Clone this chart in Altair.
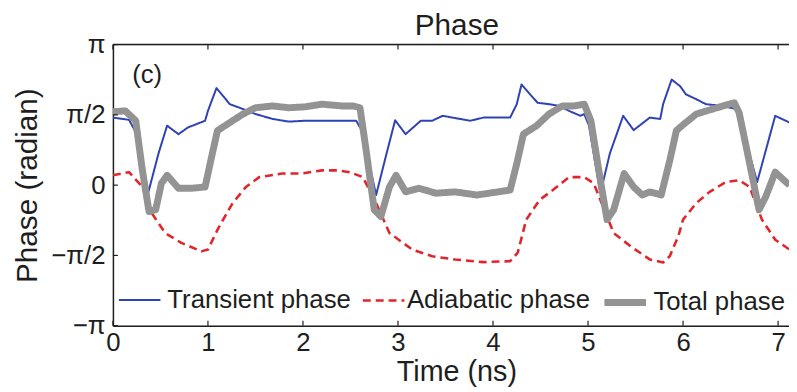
import math
import altair as alt
import pandas as pd

# ---- data (time in ns, phase in radian) ----
t_transient = [0.00, 0.17, 0.27, 0.37, 0.48, 0.57, 0.69, 0.79, 0.97, 1.00, 1.09, 1.16, 1.23, 1.37,
               1.50, 1.68, 1.85, 2.02, 2.20, 2.41, 2.56, 2.62, 2.77, 2.88, 2.97, 3.08, 3.24, 3.36,
               3.47, 3.60, 3.76, 3.90, 4.18, 4.25, 4.30, 4.39, 4.47, 4.59, 4.70, 4.80, 4.92, 4.96,
               5.01, 5.13, 5.23, 5.37, 5.48, 5.65, 5.76, 5.79, 5.88, 5.97, 6.03, 6.14, 6.24, 6.42,
               6.56, 6.63, 6.78, 6.87, 6.97, 7.08, 7.12]
phi_transient = [1.51, 1.46, 1.06, -0.18, 0.71, 1.33, 1.14, 1.29, 1.44, 1.66, 2.17, 1.99, 1.81, 1.70,
                 1.59, 1.48, 1.42, 1.44, 1.44, 1.44, 1.44, 1.22, -0.22, 0.71, 1.45, 1.14, 1.44, 1.44,
                 1.55, 1.50, 1.44, 1.51, 1.51, 1.81, 2.25, 2.03, 1.84, 1.81, 1.77, 1.66, 1.55, 1.59,
                 1.33, -0.18, 0.71, 1.55, 1.23, 1.51, 1.48, 1.81, 2.36, 2.21, 2.03, 1.92, 1.81, 1.77,
                 1.70, 1.22, 0.07, 0.77, 1.55, 1.44, 1.40]

t_adiabatic = [0.00, 0.17, 0.31, 0.41, 0.55, 0.72, 0.93, 1.00, 1.10, 1.16, 1.26, 1.40, 1.54, 1.78,
               1.99, 2.20, 2.37, 2.49, 2.63, 2.77, 2.91, 3.15, 3.36, 3.60, 3.90, 4.18, 4.26, 4.35,
               4.49, 4.63, 4.80, 4.89, 4.96, 5.06, 5.27, 5.45, 5.65, 5.79, 5.86, 5.95, 6.00, 6.14,
               6.28, 6.45, 6.59, 6.70, 6.83, 6.97, 7.12]
phi_adiabatic = [0.22, 0.29, -0.04, -0.63, -1.07, -1.29, -1.48, -1.44, -1.00, -0.77, -0.40, -0.04, 0.18, 0.26,
                 0.26, 0.33, 0.33, 0.29, 0.18, -0.40, -1.07, -1.44, -1.59, -1.66, -1.72, -1.70, -1.51, -0.77,
                 -0.33, -0.11, 0.18, 0.18, 0.18, 0.04, -1.07, -1.37, -1.66, -1.73, -1.59, -1.14, -0.77, -0.40,
                 -0.15, 0.07, 0.11, -0.04, -0.77, -1.22, -1.44]

t_total = [0.00, 0.13, 0.24, 0.31, 0.38, 0.45, 0.51, 0.57, 0.69, 0.83, 0.97, 1.03, 1.10, 1.21,
           1.26, 1.37, 1.50, 1.68, 1.85, 2.02, 2.20, 2.41, 2.53, 2.60, 2.67, 2.75, 2.82, 2.91,
           2.98, 3.08, 3.22, 3.40, 3.60, 3.83, 4.18, 4.25, 4.32, 4.46, 4.59, 4.73, 4.85, 4.96,
           5.03, 5.13, 5.20, 5.27, 5.38, 5.48, 5.57, 5.65, 5.77, 5.86, 5.93, 6.00, 6.14, 6.31,
           6.42, 6.54, 6.59, 6.68, 6.80, 6.87, 6.97, 7.12]
phi_total = [1.64, 1.66, 1.44, 0.33, -0.59, -0.55, 0.04, 0.22, -0.07, -0.07, -0.04, 0.55, 1.22, 1.37,
             1.44, 1.59, 1.73, 1.77, 1.73, 1.75, 1.81, 1.77, 1.77, 1.73, 0.70, -0.55, -0.70, -0.04,
             0.22, -0.15, -0.07, -0.18, -0.15, -0.22, -0.11, 0.48, 1.14, 1.33, 1.59, 1.77, 1.77, 1.81,
             1.44, 0.11, -0.77, -0.55, 0.26, -0.04, -0.22, -0.15, -0.22, 0.55, 1.22, 1.35, 1.59, 1.70,
             1.77, 1.84, 1.62, 0.70, -0.55, -0.26, 0.29, 0.00]

series_names = ["Transient phase", "Adiabatic phase", "Total phase"]
series_colors = ["#2e42b4", "#e0262c", "#939393"]
series_dash = [[1, 0], [8, 5], [1, 0]]
series_width = [2.0, 2.6, 7.0]

# legend entry placement (inside the plot, along the bottom)
legend_x = [5, 251, 493]
legend_label_offset = [6, 1, 4]

x_ticks = [0, 1, 2, 3, 4, 5, 6, 7]
y_ticks = [-math.pi, -math.pi / 2, 0, math.pi / 2, math.pi]
y_tick_labels = ["−π", "−π/2", "0", "π/2", "π"]

panel_label = ["(c)"]
panel_label_t = [0.36]
panel_label_phi = [2.46]

W, H = 683, 284
FONT = "Liberation Sans"
INK = "#1e1e1e"

label_expr = " : ".join(
    f"abs(datum.value - ({v})) < 0.01 ? '{s}'" for v, s in zip(y_ticks, y_tick_labels)
) + " : ''"

xscale = alt.Scale(domain=[0, 7.115], nice=False, zero=False)
yscale = alt.Scale(domain=[-math.pi, math.pi], nice=False, zero=False)

x_axis = alt.Axis(values=x_ticks, ticks=False, tickSize=0, grid=False, labelFontSize=26,
                  labelFont=FONT, labelColor=INK, labelPadding=25, labelBaseline="alphabetic",
                  title="Time (ns)", titleFontSize=29, titleFont=FONT, titleFontWeight="normal",
                  titleColor=INK, titleX=347, titleY=55, titleBaseline="alphabetic",
                  titleAlign="center", domainColor=INK, domainWidth=1.5, labelFlush=False)
y_axis = alt.Axis(values=y_ticks, ticks=False, tickSize=0, grid=False, labelFontSize=26,
                  labelFont=FONT, labelColor=INK, labelPadding=8, labelExpr=label_expr,
                  title="Phase (radian)", titleFontSize=30, titleFont=FONT,
                  titleFontWeight="normal", titleColor=INK, titleX=-77, titleY=142,
                  titleAngle=270, titleBaseline="alphabetic", titleAlign="center",
                  domainColor=INK, domainWidth=1.5, labelFlush=False)

X = alt.X("t:Q", scale=xscale, axis=x_axis)
Y = alt.Y("phi:Q", scale=yscale, axis=y_axis)

layers = []
for name, ts, ps, col, w, d, lx, lo in zip(series_names,
                                           [t_transient, t_adiabatic, t_total],
                                           [phi_transient, phi_adiabatic, phi_total],
                                           series_colors, series_width, series_dash,
                                           legend_x, legend_label_offset):
    df = pd.DataFrame({"t": ts, "phi": ps, "series": name})
    leg = alt.Legend(orient="none", legendX=lx, legendY=236, title=None,
                     symbolType="stroke", symbolSize=1764, symbolStrokeWidth=w, symbolDash=d,
                     labelFont=FONT, labelFontSize=26, labelColor=INK, labelLimit=400,
                     labelOffset=lo, padding=0)
    layers.append(
        alt.Chart(df).mark_line(clip=True, strokeJoin="round", strokeWidth=w, strokeDash=d).encode(
            x=X, y=Y,
            color=alt.Color("series:N", scale=alt.Scale(domain=[name], range=[col]), legend=leg),
            order=alt.Order("t:Q"),
        )
    )

xt_df = pd.DataFrame({"t": x_ticks})
yt_df = pd.DataFrame({"phi": y_ticks})
lab_df = pd.DataFrame({"t": panel_label_t, "phi": panel_label_phi, "label": panel_label})

bottom_ticks = alt.Chart(xt_df).mark_rule(color=INK, strokeWidth=1.2).encode(
    x=X, y=alt.value(H), y2=alt.value(H - 5))
top_ticks = alt.Chart(xt_df).mark_rule(color=INK, strokeWidth=1.2).encode(
    x=X, y=alt.value(0), y2=alt.value(5))
left_ticks = alt.Chart(yt_df).mark_rule(color=INK, strokeWidth=1.2).encode(
    y=Y, x=alt.value(0), x2=alt.value(5))
top_border = alt.Chart(xt_df.head(1)).mark_rule(color=INK, strokeWidth=1.5).encode(
    x=alt.value(0), x2=alt.value(W), y=alt.value(0))
panel_text = alt.Chart(lab_df).mark_text(font=FONT, fontSize=26, color=INK, baseline="middle").encode(
    x=X, y=Y, text="label:N")

chart = alt.layer(*layers, bottom_ticks, top_ticks, left_ticks, top_border, panel_text).resolve_scale(
    color="independent"
).properties(
    width=W, height=H,
    autosize=alt.AutoSizeParams(type="none"),
    padding={"left": 106, "top": 35, "right": 0, "bottom": 65},
    title=alt.Title("Phase", font=FONT, fontSize=30, fontWeight="normal", color=INK,
                    anchor="middle", dx=6, dy=17, offset=8, frame="group"),
).configure_view(stroke=None).configure(background="white")

chart.save("out.html", embed_options={"renderer": "svg", "actions": False})
